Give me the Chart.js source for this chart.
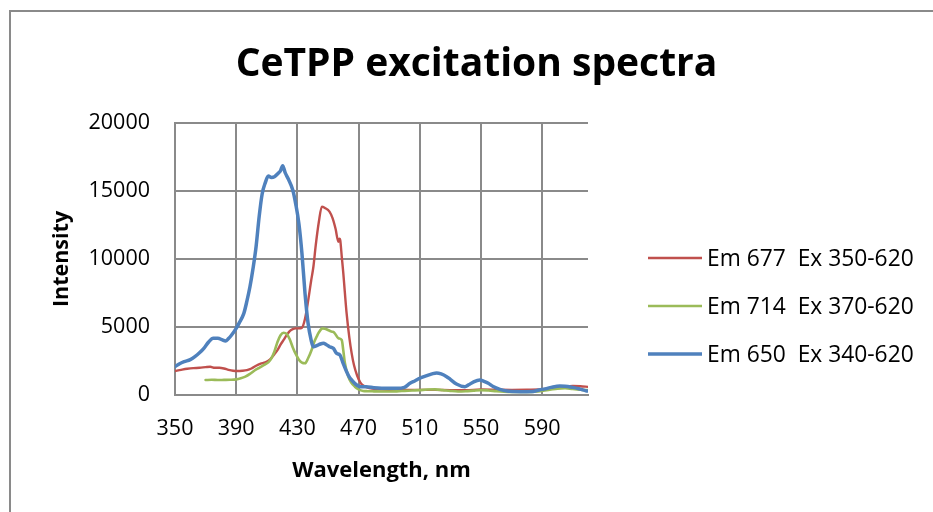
<!DOCTYPE html>
<html>
<head>
<meta charset="utf-8">
<script src="https://cdn.jsdelivr.net/npm/chart.js@4.4.0/dist/chart.umd.min.js"></script>
<style>
  html, body { margin: 0; padding: 0; background: #fff; overflow: hidden; }
  canvas { display: block; }
</style>
</head>
<body>
<canvas id="c" width="933" height="512"></canvas>
<script>
// Axis tick values
const xTicks = [350, 390, 430, 470, 510, 550, 590];
const yTicks = [0, 5000, 10000, 15000, 20000];

// Em 677, excitation 350-620 nm
const em677Wl = [350, 354, 358, 362, 366, 370, 373, 376, 379, 382, 385, 388, 391, 394, 397, 400, 403, 406, 409, 412,
  415, 417, 419, 421, 423, 425, 427, 429, 431, 433, 435, 437, 439, 440.5, 442, 444, 446, 448, 451, 453,
  455, 456.8, 457.5, 458, 459, 460, 461, 462.2, 464, 465.5, 467, 469, 471, 473, 477, 483, 490, 500, 510, 520,
  530, 540, 550, 560, 570, 580, 590, 600, 605, 610, 615, 620];
const em677Int = [1760, 1850, 1930, 1980, 2000, 2050, 2080, 2000, 2000, 1950, 1850, 1780, 1760, 1780, 1830, 1950, 2150, 2300, 2400, 2600,
  3000, 3300, 3700, 4050, 4400, 4700, 4850, 4900, 4900, 4950, 5600, 6900, 8400, 9450, 11000, 12700, 13850, 13750, 13480, 13000,
  12200, 11270, 11500, 11400, 10200, 9000, 7600, 6000, 4200, 3060, 2200, 1450, 950, 700, 500, 420, 380, 370, 380, 380,
  360, 360, 400, 390, 380, 390, 420, 560, 620, 660, 640, 600];

// Em 714, excitation 370-620 nm
const em714Wl = [370, 374, 378, 382, 386, 390, 393, 396, 399, 402, 405, 408, 411, 413, 415, 417, 419, 421, 423, 425,
  427, 429, 431, 433, 435, 437, 439.3, 441, 442.6, 444, 446.5, 448, 450, 452.4, 454, 456.8, 459, 460, 461, 463.3,
  465, 467.6, 470, 473, 476, 480, 485, 490, 495, 500, 505, 510, 515, 520, 525, 530, 535, 540, 545, 550,
  555, 560, 565, 570, 575, 580, 585, 590, 595, 600, 605, 610, 615, 620];
const em714Int = [1100, 1120, 1100, 1110, 1120, 1150, 1230, 1350, 1550, 1800, 2000, 2200, 2400, 2700, 3200, 3900, 4400, 4580, 4500, 4100,
  3500, 3000, 2600, 2380, 2330, 2700, 3310, 3900, 4290, 4600, 4900, 4880, 4780, 4660, 4600, 4170, 4040, 3300, 2400, 1350,
  950, 610, 420, 300, 280, 270, 260, 260, 270, 300, 330, 360, 400, 410, 360, 300, 260, 280, 320, 360,
  330, 280, 240, 220, 220, 230, 250, 300, 380, 470, 500, 440, 390, 360];

// Em 650, excitation 340-620 nm
const em650Wl = [350, 353, 356, 360, 363, 366, 369, 372, 375, 378, 381, 383, 385, 387, 390, 392, 395, 397, 399, 401,
  403, 405, 407, 409, 411, 413, 415, 417.5, 419, 420.4, 422, 424, 427, 429, 431, 433, 435, 437, 439, 440.4,
  443, 445, 447, 449, 451, 453.5, 455.7, 457.8, 460, 462.2, 463.8, 465.5, 467.5, 471, 475, 480, 485, 490, 495, 500,
  503.6, 507, 510, 514, 518, 521, 524, 527.6, 530, 534, 539.5, 542, 545, 549.3, 552, 554.8, 558, 562.4, 567, 571,
  576, 580, 584, 588, 592, 596, 601.6, 605, 610, 614, 619, 620];
const em650Int = [2080, 2300, 2450, 2600, 2820, 3100, 3450, 3900, 4170, 4170, 4050, 3970, 4150, 4410, 4900, 5300, 6000, 6900, 7960, 9300,
  10900, 13100, 14800, 15600, 16100, 16000, 16050, 16300, 16500, 16860, 16350, 15900, 15070, 14000, 12600, 10400, 7480, 5270, 4040, 3550,
  3650, 3750, 3800, 3700, 3550, 3430, 3060, 2940, 2300, 1710, 1350, 1100, 850, 610, 600, 540, 500, 490, 490, 560,
  860, 1050, 1230, 1400, 1550, 1620, 1550, 1350, 1150, 810, 610, 750, 950, 1100, 1000, 860, 620, 420, 290, 250,
  240, 240, 250, 370, 450, 560, 660, 650, 560, 460, 300, 290];

const seriesLabels = ['Em 677  Ex 350-620', 'Em 714  Ex 370-620', 'Em 650  Ex 340-620'];

const toPoints = (xs, ys) => xs.map((x, i) => ({ x: x, y: ys[i] }));

const FONT = '"Open Sans"';
const GRID = '#8a8a8a';

// White page background and the outer chart frame (left and top edges)
const framePlugin = {
  id: 'frame',
  beforeDraw(chart) {
    const ctx = chart.ctx;
    ctx.save();
    ctx.fillStyle = '#fff';
    ctx.fillRect(0, 0, chart.width, chart.height);
    ctx.strokeStyle = GRID;
    ctx.lineWidth = 2;
    ctx.beginPath();
    ctx.moveTo(10, chart.height);
    ctx.lineTo(10, 11);
    ctx.lineTo(chart.width, 11);
    ctx.stroke();
    ctx.restore();
  }
};

// Legend at the right, one row per series
const sideLegend = {
  id: 'sideLegend',
  afterDraw(chart) {
    const ctx = chart.ctx;
    const rows = [258, 306, 354];
    ctx.save();
    ctx.font = '22.8px ' + FONT;
    ctx.textBaseline = 'alphabetic';
    ctx.textAlign = 'left';
    ctx.fillStyle = '#000';
    chart.data.datasets.forEach((ds, i) => {
      const y = rows[i];
      ctx.strokeStyle = ds.borderColor;
      ctx.lineWidth = ds.legendWidth;
      ctx.beginPath();
      ctx.moveTo(648, y);
      ctx.lineTo(702, y);
      ctx.stroke();
      ctx.fillText(ds.label, 707, y + 8);
    });
    ctx.restore();
  }
};

new Chart(document.getElementById('c'), {
  type: 'line',
  data: {
    datasets: [
      { label: seriesLabels[0], data: toPoints(em677Wl, em677Int), borderColor: '#C0504D', borderWidth: 2.4, legendWidth: 2.5, order: 3 },
      { label: seriesLabels[1], data: toPoints(em714Wl, em714Int), borderColor: '#9BBB59', borderWidth: 2.6, legendWidth: 2.6, order: 2 },
      { label: seriesLabels[2], data: toPoints(em650Wl, em650Int), borderColor: '#4F81BD', borderWidth: 3.5, legendWidth: 3.5, order: 1 }
    ]
  },
  options: {
    responsive: false,
    animation: false,
    events: [],
    layout: { padding: { left: 20, right: 0, top: 0, bottom: 0 } },
    elements: {
      point: { radius: 0 },
      line: { cubicInterpolationMode: 'monotone', fill: false, borderCapStyle: 'round', borderJoinStyle: 'round' }
    },
    plugins: {
      legend: { display: false },
      tooltip: { enabled: false },
      title: {
        display: true,
        text: 'CeTPP excitation spectra',
        color: '#000',
        font: { family: FONT, size: 39, weight: 'bold', lineHeight: 1.2 },
        padding: { top: 41.5, bottom: 34.7 }
      }
    },
    scales: {
      x: {
        type: 'linear',
        min: 350,
        max: 620,
        afterBuildTicks: s => { s.ticks = xTicks.map(v => ({ value: v })); },
        afterFit: s => { s.height = 117; },
        grid: { color: GRID, lineWidth: 2, drawTicks: false },
        border: { color: GRID, width: 2 },
        ticks: { color: '#000', padding: 21, maxRotation: 0, font: { family: FONT, size: 21.5 }, callback: v => String(v) },
        title: {
          display: true, text: 'Wavelength, nm', color: '#000',
          font: { family: FONT, size: 22, weight: 'bold', lineHeight: 1.2 },
          padding: { top: 0, bottom: 28 }
        }
      },
      y: {
        min: 0,
        max: 20000,
        afterBuildTicks: s => { s.ticks = yTicks.map(v => ({ value: v })); },
        afterFit: s => { s.width = 155; },
        grid: { color: GRID, lineWidth: 2, drawTicks: false },
        border: { color: GRID, width: 2 },
        ticks: { color: '#000', padding: 25, font: { family: FONT, size: 21.5 }, callback: v => String(v) },
        title: {
          display: true, text: 'Intensity', color: '#000',
          font: { family: FONT, size: 21.5, weight: 'bold', lineHeight: 1.2 },
          padding: { top: 29, bottom: 0 }
        }
      },
      side: {
        position: 'right',
        display: true,
        afterFit: s => { s.width = 345; },
        grid: { display: false },
        border: { display: false },
        ticks: { display: false },
        title: { display: false }
      }
    }
  },
  plugins: [framePlugin, sideLegend]
});
</script>
</body>
</html>
